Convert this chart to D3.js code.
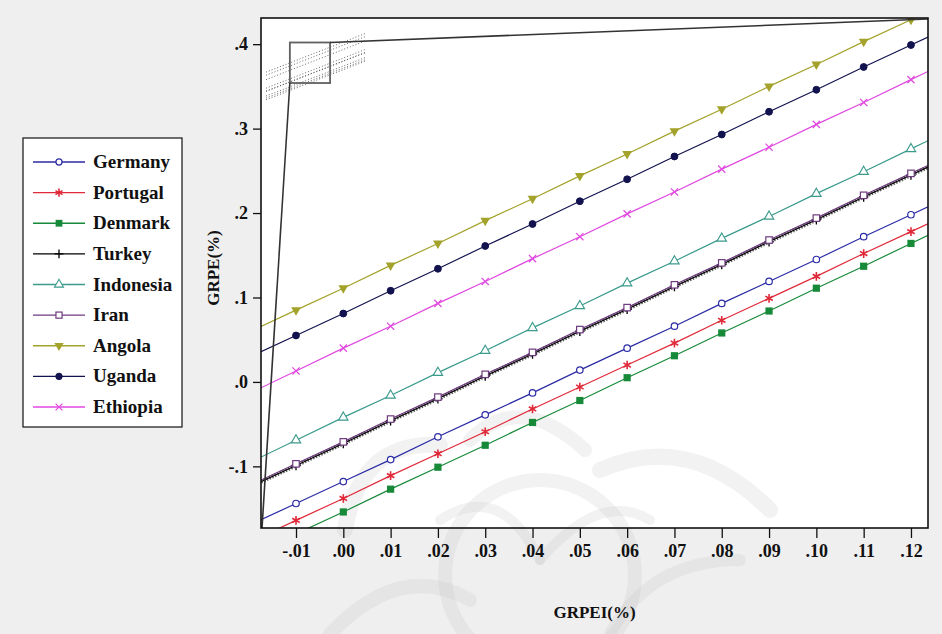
<!DOCTYPE html>
<html><head><meta charset="utf-8">
<script src="https://cdn.jsdelivr.net/npm/d3@7"></script>
<style>body{margin:0;background:#efefef;} svg{display:block}</style>
</head><body><svg id="c" width="942" height="634"></svg>
<script>
// ---- data ----
const xTicks = [-0.01,0.00,0.01,0.02,0.03,0.04,0.05,0.06,0.07,0.08,0.09,0.10,0.11,0.12];
const xTickLabels = ["-.01",".00",".01",".02",".03",".04",".05",".06",".07",".08",".09",".10",".11",".12"];
const yTicks = [-0.1,0.0,0.1,0.2,0.3,0.4];
const yTickLabels = ["-.1",".0",".1",".2",".3",".4"];
const countries = ["Germany","Portugal","Denmark","Turkey","Indonesia","Iran","Angola","Uganda","Ethiopia"];
const germany   = [-0.144,-0.118,-0.092,-0.065,-0.039,-0.013,0.014,0.040,0.066,0.093,0.119,0.145,0.172,0.198];
const portugal  = [-0.164,-0.138,-0.111,-0.085,-0.059,-0.032,-0.006,0.020,0.046,0.073,0.099,0.125,0.152,0.178];
const denmark   = [-0.180,-0.154,-0.127,-0.101,-0.075,-0.048,-0.022,0.005,0.031,0.058,0.084,0.111,0.137,0.164];
const turkey    = [-0.099,-0.073,-0.046,-0.020,0.007,0.033,0.060,0.086,0.113,0.139,0.166,0.192,0.219,0.245];
const indonesia = [-0.069,-0.042,-0.016,0.011,0.037,0.064,0.090,0.117,0.143,0.170,0.196,0.223,0.249,0.276];
const iran      = [-0.097,-0.071,-0.044,-0.018,0.009,0.035,0.062,0.088,0.115,0.141,0.168,0.194,0.221,0.247];
const angola    = [0.085,0.111,0.138,0.164,0.191,0.217,0.244,0.270,0.297,0.323,0.350,0.376,0.403,0.429];
const uganda    = [0.055,0.081,0.108,0.134,0.161,0.187,0.214,0.240,0.267,0.293,0.320,0.346,0.373,0.399];
const ethiopia  = [0.013,0.040,0.066,0.093,0.119,0.146,0.172,0.199,0.225,0.252,0.278,0.305,0.331,0.358];
const seriesValues = [germany,portugal,denmark,turkey,indonesia,iran,angola,uganda,ethiopia];
const xDomain = [-0.0174, 0.1236];
const yDomain = [-0.173, 0.431];
const insetBoxX = [-0.0113, -0.0028];
const insetBoxY = [0.354, 0.402];

// ---- styles ----
const colors = ["#2b2ba6","#e02a3a","#178a3a","#000000","#3a9a8c","#6e3a7e","#a3a22a","#12124f","#e048e0"];
const markers = ["ocircle","asterisk","fsquare","plus","otriangle","osquare","ftridown","fcircle","cross"];

const svg = d3.select("#c");
const W = 942, H = 634;
const L = 261, R = 928, T = 18, B = 528;
const x = d3.scaleLinear().domain(xDomain).range([L, R]);
const y = d3.scaleLinear().domain(yDomain).range([B, T]);

svg.append("rect").attr("width",W).attr("height",H).attr("fill","#efefef");
svg.append("rect").attr("x",L).attr("y",T).attr("width",R-L).attr("height",B-T).attr("fill","#ffffff");

// faint watermark
const wm = svg.append("g").attr("fill","none").attr("stroke","#c4c4c4").attr("stroke-opacity",0.22).attr("stroke-linecap","round");
wm.append("circle").attr("cx",540).attr("cy",575).attr("r",95).attr("stroke-width",14);
[["M345,530 Q360,440 440,445", 16],["M470,440 Q520,390 585,450",14],["M600,470 Q690,430 770,510",16],
 ["M330,634 Q400,560 470,600",14],["M610,634 Q650,560 740,560",12],["M440,520 Q500,480 540,560",10],
 ["M540,560 Q600,490 650,520",10]].forEach(d=>wm.append("path").attr("d",d[0]).attr("stroke-width",d[1]));

svg.append("defs").append("clipPath").attr("id","pc").append("rect")
  .attr("x",L).attr("y",T).attr("width",R-L).attr("height",B-T);
const plot = svg.append("g").attr("clip-path","url(#pc)");

function extended(vals){
  const n = vals.length;
  const s0 = (vals[1]-vals[0])/(xTicks[1]-xTicks[0]);
  const s1 = (vals[n-1]-vals[n-2])/(xTicks[n-1]-xTicks[n-2]);
  const pts = [[xDomain[0], vals[0] + s0*(xDomain[0]-xTicks[0])]];
  vals.forEach((v,i)=>pts.push([xTicks[i], v]));
  pts.push([xDomain[1], vals[n-1] + s1*(xDomain[1]-xTicks[n-1])]);
  return pts;
}
const line = d3.line().x(d=>x(d[0])).y(d=>y(d[1]));

function drawMarker(g, type, cx, cy, col, r){
  switch(type){
    case "ocircle": g.append("circle").attr("cx",cx).attr("cy",cy).attr("r",r*0.9).attr("fill","#fff").attr("stroke",col).attr("stroke-width",1.2); break;
    case "fcircle": g.append("circle").attr("cx",cx).attr("cy",cy).attr("r",r*0.95).attr("fill",col).attr("stroke",col); break;
    case "fsquare": g.append("rect").attr("x",cx-r).attr("y",cy-r).attr("width",2*r).attr("height",2*r).attr("fill",col); break;
    case "osquare": g.append("rect").attr("x",cx-r*0.9).attr("y",cy-r*0.9).attr("width",1.8*r).attr("height",1.8*r).attr("fill","#fff").attr("stroke",col).attr("stroke-width",1.2); break;
    case "otriangle": g.append("path").attr("d",d3.symbol(d3.symbolTriangle, r*r*3)()).attr("transform",`translate(${cx},${cy})`).attr("fill","#fff").attr("stroke",col).attr("stroke-width",1.1); break;
    case "ftridown": g.append("path").attr("d",d3.symbol(d3.symbolTriangle, r*r*3.2)()).attr("transform",`translate(${cx},${cy}) rotate(180)`).attr("fill",col); break;
    case "asterisk": g.append("path").attr("d",d3.symbol(d3.symbolAsterisk, r*r*4)()).attr("transform",`translate(${cx},${cy})`).attr("fill","none").attr("stroke",col).attr("stroke-width",1.6); break;
    case "plus": g.append("path").attr("d",`M0,${-r*1.3}V${r*1.3}M${-r*1.3},0H${r*1.3}`).attr("transform",`translate(${cx},${cy})`).attr("fill","none").attr("stroke",col).attr("stroke-width",1.3); break;
    case "cross": g.append("path").attr("d",`M${-r},${-r}L${r},${r}M${-r},${r}L${r},${-r}`).attr("transform",`translate(${cx},${cy})`).attr("fill","none").attr("stroke",col).attr("stroke-width",1.2); break;
  }
}

seriesValues.forEach((vals,i)=>{
  const pts = extended(vals);
  const g = plot.append("g");
  if(countries[i]==="Turkey"){
    g.append("path").attr("d",line(pts)).attr("fill","none").attr("stroke","#333").attr("stroke-width",4).attr("stroke-dasharray","1.5,1.5").attr("stroke-opacity",0.75);
  }
  g.append("path").attr("d",line(pts)).attr("fill","none").attr("stroke",colors[i]).attr("stroke-width",1.2);
  vals.forEach((v,j)=>{
    if(v < yDomain[0] || v > yDomain[1]) return;
    drawMarker(g, markers[i], x(xTicks[j]), y(v), colors[i], 3.6);
  });
});

// inset box artifact (mini dotted copy + zoom lines)
const mx = d3.scaleLinear().domain(xDomain).range([266, 366]);
const my = d3.scaleLinear().domain(yDomain).range([97, 34]);
const mini = svg.append("g");
seriesValues.forEach((vals)=>{
  mini.append("path").attr("d", d3.line().x(d=>mx(d[0])).y(d=>my(d[1]))(extended(vals)))
    .attr("fill","none").attr("stroke","#444").attr("stroke-width",1).attr("stroke-dasharray","1,2").attr("stroke-opacity",0.8);
});
svg.append("rect").attr("x",x(insetBoxX[0])).attr("y",y(insetBoxY[1]))
  .attr("width",x(insetBoxX[1])-x(insetBoxX[0])).attr("height",y(insetBoxY[0])-y(insetBoxY[1]))
  .attr("fill","none").attr("stroke","#606060").attr("stroke-width",1.8);
svg.append("line").attr("x1",x(insetBoxX[0])).attr("y1",y(insetBoxY[0])).attr("x2",x(xDomain[0])+1).attr("y2",y(yDomain[0]))
  .attr("stroke","#333").attr("stroke-width",1.6);
svg.append("line").attr("x1",x(insetBoxX[1])).attr("y1",y(insetBoxY[1])).attr("x2",x(xDomain[1])).attr("y2",y(yDomain[1])+1)
  .attr("stroke","#333").attr("stroke-width",1.6);

// frame
svg.append("rect").attr("x",L).attr("y",T).attr("width",R-L).attr("height",B-T)
  .attr("fill","none").attr("stroke","#111").attr("stroke-width",1.6);

// axes
const fontFam = "Liberation Serif, Times New Roman, serif";
const xAxis = d3.axisBottom(x).tickValues(xTicks).tickFormat((d,i)=>xTickLabels[i]).tickSize(10).tickPadding(6);
const gx = svg.append("g").attr("transform",`translate(0,${B})`).call(xAxis);
gx.select(".domain").remove();
gx.selectAll("line").attr("stroke","#111").attr("stroke-width",1.3);
gx.selectAll("text").attr("font-family",fontFam).attr("font-size",18).attr("font-weight","bold").attr("fill","#111");

const yAxis = d3.axisLeft(y).tickValues(yTicks).tickFormat((d,i)=>yTickLabels[i]).tickSize(8).tickPadding(5);
const gy = svg.append("g").attr("transform",`translate(${L},0)`).call(yAxis);
gy.select(".domain").remove();
gy.selectAll("line").attr("stroke","#111").attr("stroke-width",1.3);
gy.selectAll("text").attr("font-family",fontFam).attr("font-size",18).attr("font-weight","bold").attr("fill","#111");

svg.append("text").attr("x",(L+R)/2).attr("y",618).attr("text-anchor","middle")
  .attr("font-family",fontFam).attr("font-size",17).attr("font-weight","bold").attr("fill","#111").text("GRPEI(%)");
svg.append("text").attr("transform",`translate(219,${(T+B)/2 - 5}) rotate(-90)`).attr("text-anchor","middle")
  .attr("font-family",fontFam).attr("font-size",17).attr("font-weight","bold").attr("fill","#111").text("GRPE(%)");

// legend
const lg = svg.append("g");
lg.append("rect").attr("x",23).attr("y",138).attr("width",159).attr("height",289)
  .attr("fill","#fff").attr("stroke","#222").attr("stroke-width",1.3);
const ly = d3.scalePoint().domain(countries).range([162, 407]);
countries.forEach((c,i)=>{
  const yy = ly(c);
  lg.append("line").attr("x1",33).attr("x2",85).attr("y1",yy).attr("y2",yy).attr("stroke",colors[i]).attr("stroke-width",1.3);
  drawMarker(lg, markers[i], 59, yy, colors[i], 3.4);
  lg.append("text").attr("x",93).attr("y",yy+6).attr("font-family",fontFam).attr("font-size",19)
    .attr("font-weight","bold").attr("fill","#111").text(c);
});
</script></body></html>
